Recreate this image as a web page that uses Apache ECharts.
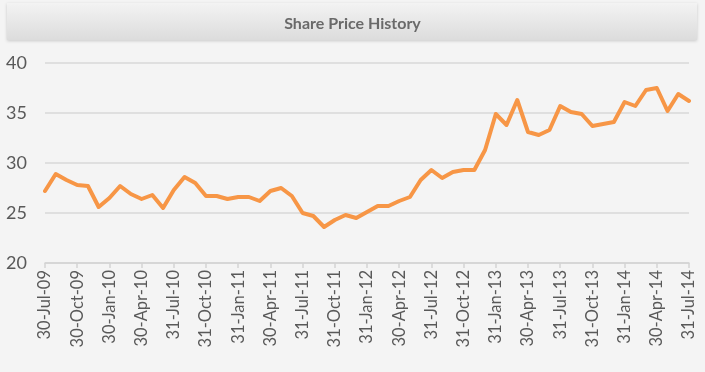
<!DOCTYPE html>
<html>
<head>
<meta charset="utf-8">
<script src="https://cdn.jsdelivr.net/npm/echarts@6/dist/echarts.min.js"></script>
<style>
html,body{margin:0;padding:0;background:#f4f4f4;}
#chart{width:705px;height:372px;}
</style>
</head>
<body>
<div id="chart"></div>
<script>
var titleText = 'Share Price History';
var categories = [
  '30-Jul-09','31-Aug-09','30-Sep-09','30-Oct-09','30-Nov-09','31-Dec-09',
  '30-Jan-10','26-Feb-10','31-Mar-10','30-Apr-10','31-May-10','30-Jun-10',
  '31-Jul-10','31-Aug-10','30-Sep-10','31-Oct-10','30-Nov-10','31-Dec-10',
  '31-Jan-11','28-Feb-11','31-Mar-11','30-Apr-11','31-May-11','30-Jun-11',
  '31-Jul-11','31-Aug-11','30-Sep-11','31-Oct-11','30-Nov-11','31-Dec-11',
  '31-Jan-12','29-Feb-12','31-Mar-12','30-Apr-12','31-May-12','30-Jun-12',
  '31-Jul-12','31-Aug-12','30-Sep-12','31-Oct-12','30-Nov-12','31-Dec-12',
  '31-Jan-13','28-Feb-13','31-Mar-13','30-Apr-13','31-May-13','30-Jun-13',
  '31-Jul-13','31-Aug-13','30-Sep-13','31-Oct-13','30-Nov-13','31-Dec-13',
  '31-Jan-14','28-Feb-14','31-Mar-14','30-Apr-14','31-May-14','30-Jun-14',
  '31-Jul-14'
];
var sharePrice = [
  27.2, 28.9, 28.3, 27.8, 27.7, 25.6,
  26.5, 27.7, 26.9, 26.4, 26.8, 25.5,
  27.3, 28.6, 28.0, 26.7, 26.7, 26.4,
  26.6, 26.6, 26.2, 27.2, 27.5, 26.7,
  25.0, 24.7, 23.6, 24.3, 24.8, 24.5,
  25.1, 25.7, 25.7, 26.2, 26.6, 28.3,
  29.3, 28.5, 29.1, 29.3, 29.3, 31.3,
  34.9, 33.8, 36.3, 33.1, 32.8, 33.3,
  35.7, 35.1, 34.9, 33.7, 33.9, 34.1,
  36.1, 35.7, 37.3, 37.5, 35.2, 36.9,
  36.2
];
var yMin = 20, yMax = 40, yStep = 5;

var chart = echarts.init(document.getElementById('chart'));
chart.setOption({
  backgroundColor: '#f4f4f4',
  animation: false,
  graphic: [{
    type: 'rect',
    left: 7, top: 3,
    shape: {width: 690, height: 37},
    style: {
      fill: new echarts.graphic.LinearGradient(0, 0, 0, 1, [
        {offset: 0, color: '#f3f3f3'},
        {offset: 1, color: '#dcdcdc'}
      ]),
      shadowBlur: 3, shadowColor: 'rgba(0,0,0,0.18)', shadowOffsetY: 1
    },
    z: 0
  }],
  title: {
    text: titleText,
    left: 'center',
    top: 11,
    textStyle: {fontFamily: 'Lato', fontWeight: 'bold', fontSize: 16, color: '#6a6a6a'},
    z: 5
  },
  grid: {left: 45, right: 16, top: 63, bottom: 109, containLabel: false},
  xAxis: {
    type: 'category',
    data: categories,
    boundaryGap: false,
    axisLine: {lineStyle: {color: '#d4d4d4', width: 1.5}},
    axisTick: {show: true, interval: 2, length: 5, lineStyle: {color: '#d4d4d4', width: 1.5}},
    axisLabel: {
      interval: 2, rotate: 90, margin: 7,
      fontFamily: 'Lato', fontSize: 16.5, color: '#595959'
    },
    splitLine: {show: false}
  },
  yAxis: {
    type: 'value',
    min: yMin, max: yMax, interval: yStep,
    axisLine: {show: false},
    axisTick: {show: false},
    axisLabel: {margin: 18, fontFamily: 'Lato', fontSize: 18, color: '#595959'},
    splitLine: {lineStyle: {color: '#d9d9d9', width: 1.5}}
  },
  series: [{
    type: 'line',
    data: sharePrice,
    showSymbol: false,
    symbol: 'none',
    lineStyle: {color: '#f79646', width: 4, join: 'round', cap: 'round'},
    itemStyle: {color: '#f79646'}
  }]
});
</script>
</body>
</html>
